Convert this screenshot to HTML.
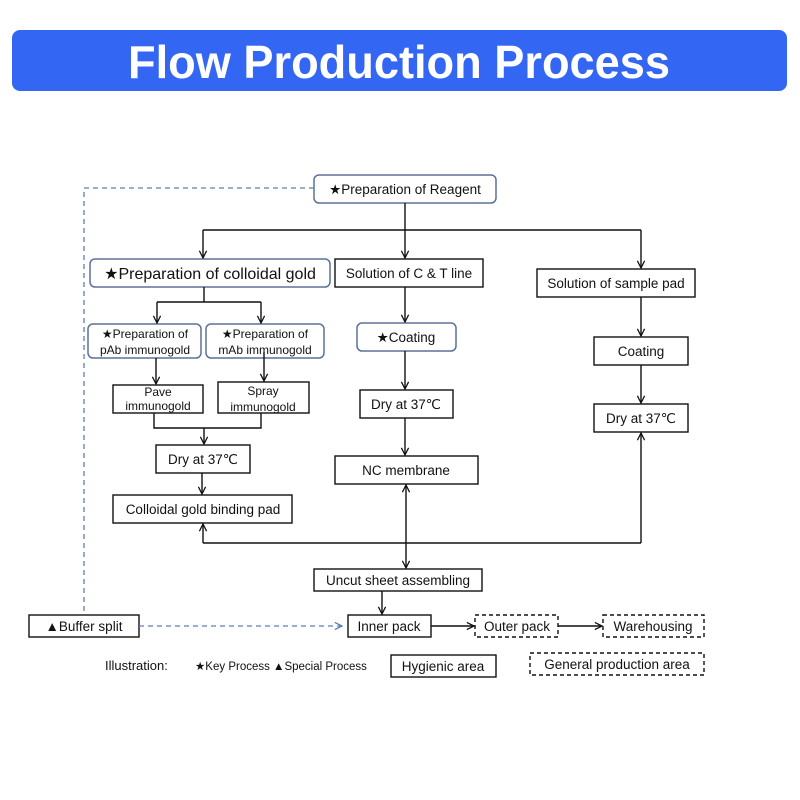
<!DOCTYPE html>
<html><head><meta charset="utf-8"><style>
html,body{margin:0;padding:0;background:#fff;}
svg{display:block;}
text{font-family:"Liberation Sans","DejaVu Sans",sans-serif;fill:#111;}
</style></head><body>
<svg width="800" height="800" viewBox="0 0 800 800" xmlns="http://www.w3.org/2000/svg">
<defs>
<marker id="a" viewBox="0 0 10 10" refX="9" refY="5" markerWidth="9" markerHeight="9" orient="auto-start-reverse" markerUnits="userSpaceOnUse">
<path d="M1,1 L9,5 L1,9" fill="none" stroke="#111" stroke-width="1.4"/></marker>
<marker id="b" viewBox="0 0 10 10" refX="9" refY="5" markerWidth="9" markerHeight="9" orient="auto" markerUnits="userSpaceOnUse">
<path d="M1,1 L9,5 L1,9" fill="none" stroke="#5b7fb8" stroke-width="1.4"/></marker>
</defs>
<rect x="12" y="30" width="775" height="61" rx="8" fill="#3366f2"/>
<text x="399" y="78" text-anchor="middle" font-size="46" font-weight="bold" style="fill:#fff" textLength="542" lengthAdjust="spacingAndGlyphs">Flow Production Process</text>

<g fill="#fff" stroke="#5b7199" stroke-width="1.5">
<rect x="314" y="175" width="182" height="28" rx="5"/>
<rect x="90" y="259" width="240" height="28" rx="5"/>
<rect x="88" y="324" width="113" height="34" rx="5"/>
<rect x="206" y="324" width="118" height="34" rx="5"/>
<rect x="357" y="323" width="99" height="28" rx="5"/>
</g>
<g fill="#fff" stroke="#111" stroke-width="1.4">
<rect x="335" y="259" width="148" height="28"/>
<rect x="537" y="269" width="158" height="28"/>
<rect x="113" y="385" width="90" height="28"/>
<rect x="218" y="382" width="91" height="31"/>
<rect x="156" y="445" width="94" height="28"/>
<rect x="113" y="495" width="179" height="28"/>
<rect x="360" y="390" width="93" height="28"/>
<rect x="335" y="456" width="143" height="28"/>
<rect x="594" y="337" width="94" height="28"/>
<rect x="594" y="404" width="94" height="28"/>
<rect x="314" y="569" width="168" height="22"/>
<rect x="29" y="615" width="110" height="22"/>
<rect x="348" y="615" width="83" height="22"/>
<rect x="391" y="655" width="105" height="22"/>
</g>
<g fill="#fff" stroke="#111" stroke-width="1.4" stroke-dasharray="4,3">
<rect x="475" y="615" width="83" height="22"/>
<rect x="603" y="615" width="101" height="22"/>
<rect x="530" y="653" width="174" height="22"/>
</g>

<g fill="none" stroke="#111" stroke-width="1.4">
<path d="M405,203 V230 M203,230 H641"/>
<path d="M203,230 V258" marker-end="url(#a)"/>
<path d="M405,230 V258" marker-end="url(#a)"/>
<path d="M641,230 V268" marker-end="url(#a)"/>
<path d="M204,287 V302 M157,302 H261"/>
<path d="M157,302 V323" marker-end="url(#a)"/>
<path d="M261,302 V323" marker-end="url(#a)"/>
<path d="M156,358 V384" marker-end="url(#a)"/>
<path d="M264,352 V381" marker-end="url(#a)"/>
<path d="M154,413 V428 H261 V413"/>
<path d="M204,428 V444" marker-end="url(#a)"/>
<path d="M202,473 V494" marker-end="url(#a)"/>
<path d="M405,287 V322" marker-end="url(#a)"/>
<path d="M405,351 V389" marker-end="url(#a)"/>
<path d="M405,418 V455" marker-end="url(#a)"/>
<path d="M641,297 V336" marker-end="url(#a)"/>
<path d="M641,365 V403" marker-end="url(#a)"/>
<path d="M203,543 H641"/>
<path d="M203,543 V524" marker-end="url(#a)"/>
<path d="M641,543 V433" marker-end="url(#a)"/>
<path d="M406,543 V485" marker-end="url(#a)"/>
<path d="M406,543 V568" marker-end="url(#a)"/>
<path d="M382,591 V614" marker-end="url(#a)"/>
<path d="M431,626 H474" marker-end="url(#a)"/>
<path d="M558,626 H602" marker-end="url(#a)"/>
</g>
<g fill="none" stroke="#5b7fb8" stroke-width="1.3" stroke-dasharray="5,4">
<path d="M314,188 H84 V615"/>
<path d="M139,626 H342" marker-end="url(#b)"/>
</g>

<g font-size="13.5" text-anchor="middle">
<text x="405" y="194">★Preparation of Reagent</text>
<text x="210" y="279" font-size="16">★Preparation of colloidal gold</text>
<text x="409" y="278">Solution of C &amp; T line</text>
<text x="616" y="288">Solution of sample pad</text>
<text x="145" y="338" font-size="12">★Preparation of</text>
<text x="145" y="354" font-size="12">pAb immunogold</text>
<text x="265" y="338" font-size="12">★Preparation of</text>
<text x="265" y="354" font-size="12">mAb immunogold</text>
<text x="158" y="396" font-size="12">Pave</text>
<text x="158" y="410" font-size="12">immunogold</text>
<text x="263" y="395" font-size="12">Spray</text>
<text x="263" y="411" font-size="12">immunogold</text>
<text x="203" y="464">Dry at 37℃</text>
<text x="203" y="514">Colloidal gold binding pad</text>
<text x="406" y="342">★Coating</text>
<text x="406" y="409">Dry at 37℃</text>
<text x="406" y="475">NC membrane</text>
<text x="641" y="356">Coating</text>
<text x="641" y="423">Dry at 37℃</text>
<text x="398" y="585">Uncut sheet assembling</text>
<text x="84" y="631">▲Buffer split</text>
<text x="389" y="631">Inner pack</text>
<text x="517" y="631">Outer pack</text>
<text x="653" y="631">Warehousing</text>
<text x="443" y="671">Hygienic area</text>
<text x="617" y="669">General production area</text>
</g>
<text x="105" y="670" font-size="13">Illustration:</text>
<text x="195" y="670" font-size="11.5">★Key Process ▲Special Process</text>
</svg>
</body></html>
